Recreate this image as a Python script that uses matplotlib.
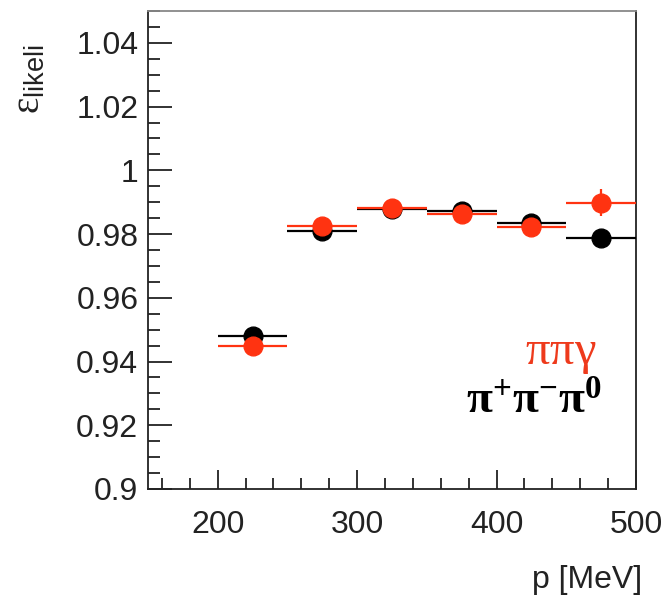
import matplotlib
matplotlib.use("Agg")
import matplotlib.pyplot as plt
from matplotlib.ticker import MultipleLocator, FixedLocator

# ---- data ----
p_centers = [225, 275, 325, 375, 425, 475]
p_halfwidth = [25, 25, 25, 25, 25, 25]
eff_pipipi0 = [0.948, 0.981, 0.9878, 0.9873, 0.9836, 0.9787]
err_pipipi0 = [0.0008, 0.0008, 0.0008, 0.0008, 0.0008, 0.0008]
eff_pipigamma = [0.945, 0.9825, 0.9882, 0.9863, 0.9823, 0.9898]
err_pipigamma = [0.0008, 0.0008, 0.0008, 0.0008, 0.0008, 0.0042]
x_major = [200, 300, 400, 500]
y_major = [0.90, 0.92, 0.94, 0.96, 0.98, 1.00, 1.02, 1.04]
y_major_labels = ["0.9", "0.92", "0.94", "0.96", "0.98", "1", "1.02", "1.04"]

RED = "#ff3311"

plt.rcParams["mathtext.fontset"] = "custom"
plt.rcParams["mathtext.rm"] = "Liberation Serif"
plt.rcParams["mathtext.it"] = "Liberation Serif"
plt.rcParams["mathtext.bf"] = "Liberation Serif:bold"
plt.rcParams["mathtext.sf"] = "Liberation Sans"

W, H = 662, 598
fig = plt.figure(figsize=(6.62, 5.98), dpi=100)
ax = fig.add_axes([148/W, 1-489/H, (636-148)/W, (489-11)/H])

ax.errorbar(p_centers, eff_pipipi0, xerr=p_halfwidth, yerr=err_pipipi0,
            fmt="o", color="black", ms=13.5, elinewidth=1.6, capsize=0, zorder=3)
ax.errorbar(p_centers, eff_pipigamma, xerr=p_halfwidth, yerr=err_pipigamma,
            fmt="o", color=RED, ms=13.5, elinewidth=1.6, capsize=0, zorder=4)

ax.set_xlim(150, 500)
ax.set_ylim(0.9, 1.05)
ax.xaxis.set_major_locator(FixedLocator(x_major))
ax.xaxis.set_minor_locator(MultipleLocator(20))
ax.yaxis.set_major_locator(FixedLocator(y_major))
ax.set_yticklabels(y_major_labels)
ax.yaxis.set_minor_locator(MultipleLocator(0.005))

for lab in ax.get_xticklabels() + ax.get_yticklabels():
    lab.set_family("Liberation Sans")
    lab.set_fontsize(23)
    lab.set_color("#222222")

ax.tick_params(axis="both", which="both", direction="in", top=False, right=False,
               width=1.3, color="#222222")
ax.tick_params(axis="y", which="major", length=17, pad=7)
ax.tick_params(axis="y", which="minor", length=8.5)
ax.tick_params(axis="x", which="major", length=14, pad=15)
ax.tick_params(axis="x", which="minor", length=8)

for s in ["left", "bottom", "right"]:
    ax.spines[s].set_linewidth(1.3)
    ax.spines[s].set_color("#222222")
ax.spines["top"].set_linewidth(1.3)
ax.spines["top"].set_color("#888888")

fig.text(596/W, 1-364/H, r"$\pi\pi\gamma$", color="#ee3a1c", fontsize=35,
         ha="right", va="baseline")
fig.text(602/W, 1-414/H, r"$\mathbf{\pi^{+}\pi^{-}\pi^{0}}$", color="black",
         fontsize=34, ha="right", va="baseline")

fig.text(642/W, 1-588/H, "p [MeV]", family="Liberation Sans", fontsize=23,
         color="#222222", ha="right", va="baseline")
fig.text(28/W, 1-79/H, r"$\varepsilon_{\mathsf{likeli}}$", fontsize=28,
         color="#222222", rotation=90, ha="center", va="center")

fig.savefig("out.png", dpi=100)
